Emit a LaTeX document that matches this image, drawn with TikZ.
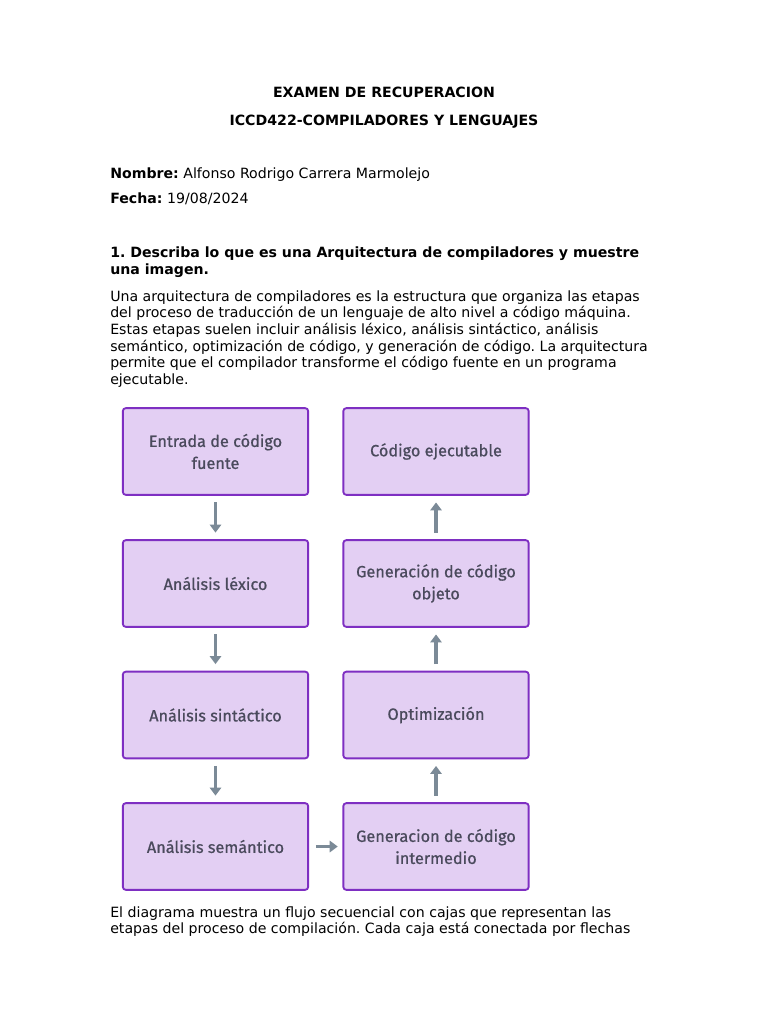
\documentclass[tikz,border=0pt]{standalone}
\usepackage{fontspec}
\setmainfont{DejaVu Sans}
\newfontfamily\boxfont[FakeBold=0.8]{Fira Sans}
\usetikzlibrary{arrows.meta}
\frenchspacing
\definecolor{boxfill}{HTML}{E3CFF3}
\definecolor{boxline}{HTML}{7E2FC2}
\definecolor{arrowgray}{HTML}{7B8A97}
\definecolor{boxtext}{HTML}{4A4A5C}
\begin{document}
\begin{tikzpicture}[x=0.75pt,y=-0.75pt,
  txt/.style={anchor=base west,inner sep=0pt,font=\fontsize{10.6}{12}\selectfont},
  ttl/.style={anchor=base,inner sep=0pt,font=\fontsize{10.6}{12}\selectfont\bfseries},
  stage/.style={draw=boxline,line width=1.4pt,fill=boxfill,rounded corners=2.2pt,
     minimum width=139pt,minimum height=65pt,inner sep=0pt,text=boxtext,
     align=center,font=\boxfont\fontsize{12.2}{16.5}\selectfont},
  flow/.style={draw=arrowgray,line width=2.6pt,-{Triangle[length=6pt,width=8.5pt]}}]
\useasboundingbox[fill=white] (0,0) rectangle (768,1024);
\node[ttl] (t1) at (384,98) {EXAMEN DE RECUPERACION};
\node[ttl] (t2) at (384,125) {ICCD422-COMPILADORES Y LENGUAJES};
\node[txt] (n1) at (110,178) {\textbf{Nombre:} Alfonso Rodrigo Carrera Marmolejo};
\node[txt] (n2) at (110,203) {\textbf{Fecha:} 19/08/2024};
\node[txt] (q1) at (110,257) {\bfseries 1. Describa lo que es una Arquitectura de compiladores y muestre};
\node[txt] (q2) at (110,274) {\bfseries una imagen.};
\node[txt] (p1) at (110,301) {Una arquitectura de compiladores es la estructura que organiza las etapas};
\node[txt] (p2) at (110,317.7) {del proceso de traducción de un lenguaje de alto nivel a código máquina.};
\node[txt] (p3) at (110,334.4) {Estas etapas suelen incluir análisis léxico, análisis sintáctico, análisis};
\node[txt] (p4) at (110,351.1) {semántico, optimización de código, y generación de código. La arquitectura};
\node[txt] (p5) at (110,367.8) {permite que el compilador transforme el código fuente en un programa};
\node[txt] (p6) at (110,384.5) {ejecutable.};
\node[stage] (a1) at (215.5,451.5) {Entrada de código\\fuente};
\node[stage] (a2) at (215.5,583.5) {Análisis léxico};
\node[stage] (a3) at (215.5,715) {Análisis sintáctico};
\node[stage] (a4) at (215.5,846.5) {Análisis semántico};
\node[stage] (b4) at (436,846.5) {Generacion de código\\intermedio};
\node[stage] (b3) at (436,715) {Optimización};
\node[stage] (b2) at (436,583.5) {Generación de código\\objeto};
\node[stage] (b1) at (436,451.5) {Código ejecutable};
\draw[flow] ([yshift=-5pt]a1.south) -- ([yshift=5pt]a2.north);
\draw[flow] ([yshift=-5pt]a2.south) -- ([yshift=5pt]a3.north);
\draw[flow] ([yshift=-5pt]a3.south) -- ([yshift=5pt]a4.north);
\draw[flow] ([xshift=5pt]a4.east) -- ([xshift=-3.5pt]b4.west);
\draw[flow] ([yshift=5pt]b4.north) -- ([yshift=-5pt]b3.south);
\draw[flow] ([yshift=5pt]b3.north) -- ([yshift=-5pt]b2.south);
\draw[flow] ([yshift=5pt]b2.north) -- ([yshift=-5pt]b1.south);
\node[txt] (e1) at (110,917) {El diagrama muestra un flujo secuencial con cajas que representan las};
\node[txt] (e2) at (110,933.7) {etapas del proceso de compilación. Cada caja está conectada por flechas};
\end{tikzpicture}
\end{document}
